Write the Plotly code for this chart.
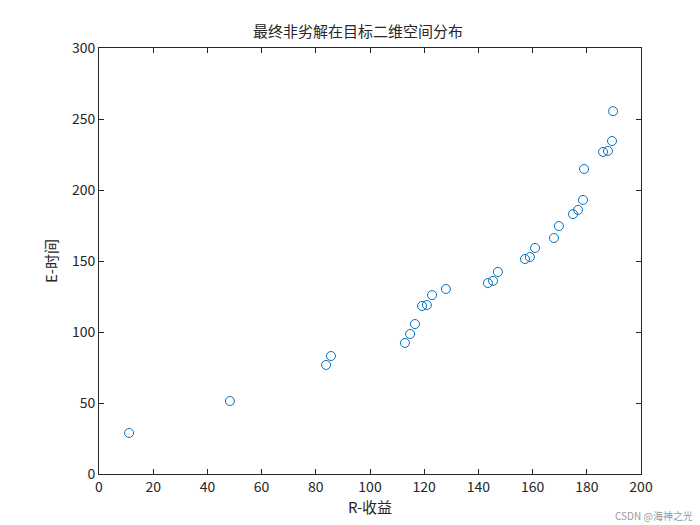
import plotly.graph_objects as go

r_gain = [11.1, 48.3, 83.8, 85.6, 112.9, 114.8, 116.6, 119.2, 121.0, 122.9, 128.0,
          143.5, 145.4, 147.2, 157.2, 159.0, 160.9, 167.9, 169.7, 174.9, 176.8,
          178.6, 179.0, 186.0, 187.8, 189.3, 189.7]
e_time = [28.9, 51.4, 76.8, 83.1, 92.3, 98.6, 105.6, 118.3, 119.0, 126.0, 130.3,
          134.5, 136.0, 142.3, 151.4, 152.8, 159.2, 166.2, 174.6, 183.0, 186.0,
          193.0, 214.8, 226.8, 227.5, 234.5, 255.5]

font = "Noto Sans CJK SC, Liberation Sans, sans-serif"
fig = go.Figure(go.Scatter(
    x=r_gain, y=e_time, mode="markers",
    marker=dict(symbol="circle-open", size=9, color="#0072BD", line=dict(width=1))))

axis = dict(showgrid=False, zeroline=False, showline=True, mirror="ticks",
            linecolor="#262626", linewidth=1, ticks="inside", ticklen=5,
            tickcolor="#262626", tickfont=dict(size=14, color="#262626"))
fig.update_layout(
    width=700, height=525, plot_bgcolor="white", paper_bgcolor="white",
    margin=dict(l=91, r=67, t=40, b=59),
    font=dict(family=font, color="#262626"),
    title=dict(text="最终非劣解在目标二维空间分布", x=0.5, xanchor="center",
               y=0.955, yanchor="middle", font=dict(size=15, color="#262626")),
    xaxis=dict(axis, range=[0, 200], dtick=20,
               title=dict(text="R-收益", font=dict(size=15), standoff=6)),
    yaxis=dict(axis, range=[0, 300], dtick=50,
               title=dict(text="E-时间", font=dict(size=15), standoff=10)),
    showlegend=False,
)
fig.add_annotation(text="CSDN @海神之光", xref="paper", yref="paper", x=1.1, y=-0.12,
                   xanchor="right", yanchor="bottom", showarrow=False,
                   font=dict(size=10, color="#999999"))
fig.write_html("out.html")
